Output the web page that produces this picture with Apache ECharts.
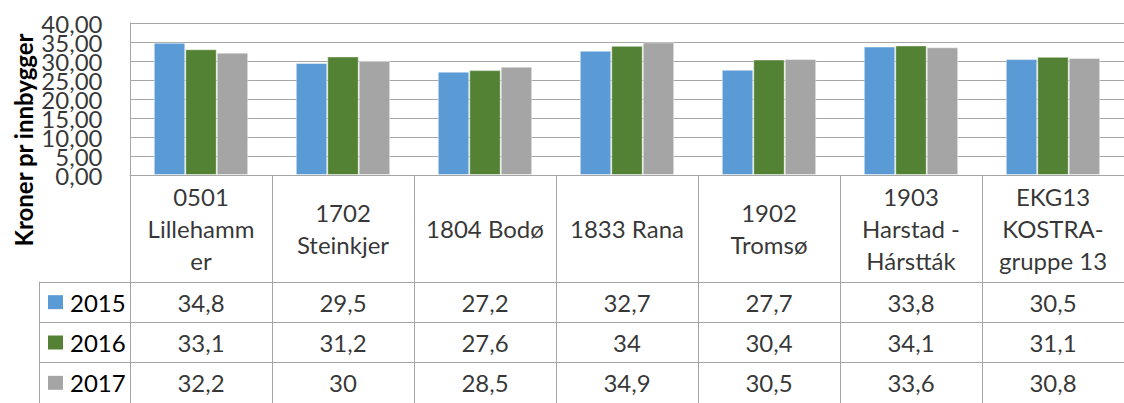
<!DOCTYPE html>
<html>
<head>
<meta charset="utf-8">
<script src="https://cdn.jsdelivr.net/npm/echarts@6/dist/echarts.min.js"></script>
<style>
  html, body { margin: 0; padding: 0; background: #fff; }
  #chart { width: 1124px; height: 403px; }
</style>
</head>
<body>
<div id="chart"></div>
<script>
// kommuner (tekst som i tabellen)
const kommuner = ['0501\nLillehamm\ner', '1702\nSteinkjer', '1804 Bodø', '1833 Rana', '1902\nTromsø', '1903\nHarstad -\nHárstták', 'EKG13\nKOSTRA-\ngruppe 13']
const years = ['2015', '2016', '2017']
const v2015 = [34.8, 29.5, 27.2, 32.7, 27.7, 33.8, 30.5]
const v2016 = [33.1, 31.2, 27.6, 34, 30.4, 34.1, 31.1]
const v2017 = [32.2, 30, 28.5, 34.9, 30.5, 33.6, 30.8]
const yTicks = { min: 0, max: 40, interval: 5 }
const yTickValues = [0, 5, 10, 15, 20, 25, 30, 35, 40]

const colors = ['#5B9BD5', '#548235', '#A5A5A5']
const lineColor = '#a6a6a6'
const font = 'Lato'
const fontSize = 24
const values = [v2015, v2016, v2017]

const chart = echarts.init(document.getElementById('chart'), null, { renderer: 'svg' })

const fmt = v => String(v).replace('.', ',')

// stolper
const barSeries = years.map((y, i) => ({
  name: y,
  type: 'bar',
  xAxisIndex: 0,
  yAxisIndex: 0,
  data: values[i],
  barGap: '0%',
  barCategoryGap: '33.5%',
  itemStyle: {
    color: colors[i],
    borderColor: 'rgba(255,255,255,0.45)',
    borderWidth: 1
  },
  silent: true
}))

// tabellverdier
const tableSeries = years.map((y, i) => ({
  type: 'scatter',
  xAxisIndex: 2,
  yAxisIndex: 2,
  symbolSize: 1,
  itemStyle: { color: 'transparent' },
  silent: true,
  data: values[i].map((v, j) => [j, i, v]),
  label: {
    show: true,
    position: 'inside',
    formatter: p => fmt(p.value[2]),
    fontFamily: font,
    fontSize: fontSize,
    color: '#000'
  }
}))

const headerSeries = {
  type: 'scatter',
  xAxisIndex: 1,
  yAxisIndex: 1,
  symbolSize: 1,
  itemStyle: { color: 'transparent' },
  silent: true,
  data: kommuner.map((k, j) => [j, 0.5]),
  label: {
    show: true,
    position: 'inside',
    formatter: p => kommuner[p.dataIndex],
    fontFamily: font,
    fontSize: fontSize,
    lineHeight: 32,
    align: 'center',
    color: '#000'
  }
}

// y-aksetekst (egen serie saa ingen etiketter skjules)
const tickSeries = {
  type: 'scatter',
  xAxisIndex: 3,
  yAxisIndex: 4,
  symbolSize: 1,
  itemStyle: { color: 'transparent' },
  silent: true,
  data: yTickValues.map(v => [1, v]),
  label: {
    show: true,
    position: 'left',
    distance: 0,
    formatter: p => p.value[1].toFixed(2).replace('.', ','),
    fontFamily: font,
    fontSize: fontSize,
    color: '#000'
  }
}

const rich = {
  t: { fontFamily: font, fontSize: fontSize, color: '#000', padding: [0, 0, 0, 7] }
}
years.forEach((y, i) => {
  rich['k' + i] = { width: 15, height: 14, backgroundColor: colors[i] }
})

const option = {
  animation: false,
  grid: [
    { left: 130, top: 23, width: 1001, height: 152 },
    { left: 130, top: 175, width: 1001, height: 107 },
    { left: 130, top: 282, width: 1001, height: 124 },
    { left: 0, top: 23, width: 103, height: 152 }
  ],
  xAxis: [
    {
      type: 'category', gridIndex: 0, data: kommuner,
      axisLine: { lineStyle: { color: lineColor } },
      axisTick: { show: false }, axisLabel: { show: false },
      splitLine: { show: false }
    },
    {
      type: 'category', gridIndex: 1, data: kommuner,
      axisLine: { show: false }, axisTick: { show: false }, axisLabel: { show: false },
      splitLine: { show: true, lineStyle: { color: lineColor } }
    },
    {
      type: 'category', gridIndex: 2, data: kommuner,
      axisLine: { show: false }, axisTick: { show: false }, axisLabel: { show: false },
      splitLine: { show: true, lineStyle: { color: lineColor } }
    },
    { type: 'value', gridIndex: 3, min: 0, max: 1, show: false }
  ],
  yAxis: [
    {
      type: 'value', gridIndex: 0,
      min: yTicks.min, max: yTicks.max, interval: yTicks.interval,
      axisLine: { show: true, lineStyle: { color: lineColor } },
      axisTick: { show: false },
      axisLabel: { show: false },
      splitLine: { show: true, lineStyle: { color: lineColor, width: 1 } }
    },
    {
      type: 'value', gridIndex: 1, min: 0, max: 1, show: false
    },
    {
      type: 'category', gridIndex: 2, data: years, inverse: true,
      axisLine: { show: true, lineStyle: { color: lineColor } },
      axisTick: { show: true, length: 91, lineStyle: { color: lineColor } },
      splitLine: { show: true, lineStyle: { color: lineColor } },
      axisLabel: {
        align: 'left', margin: 82,
        formatter: (v, i) => '{k' + i + '|}{t|' + v + '}',
        rich: rich
      }
    },
    {
      type: 'category', gridIndex: 2, data: years, inverse: true,
      position: 'left', offset: 91,
      axisLine: { show: true, lineStyle: { color: lineColor } },
      axisTick: { show: false }, axisLabel: { show: false }, splitLine: { show: false }
    },
    {
      type: 'value', gridIndex: 3,
      min: yTicks.min, max: yTicks.max, interval: yTicks.interval, show: false
    },
    {
      // egen akse bare for rutenettlinjene
      type: 'value', gridIndex: 0, position: 'right',
      min: yTicks.min, max: yTicks.max, interval: yTicks.interval,
      axisLine: { show: false }, axisTick: { show: false }, axisLabel: { show: false },
      splitLine: { show: true, lineStyle: { color: lineColor, width: 1 } }
    }
  ],
  graphic: [
    {
      type: 'text',
      x: 23, y: 140,
      rotation: Math.PI / 2,
      style: {
        text: 'Kroner pr innbygger',
        fontFamily: font, fontSize: 24, fontWeight: 'bold',
        fill: '#000', align: 'center', verticalAlign: 'middle'
      }
    }
  ],
  series: [...barSeries, headerSeries, ...tableSeries, tickSeries]
}

chart.setOption(option)
</script>
</body>
</html>
